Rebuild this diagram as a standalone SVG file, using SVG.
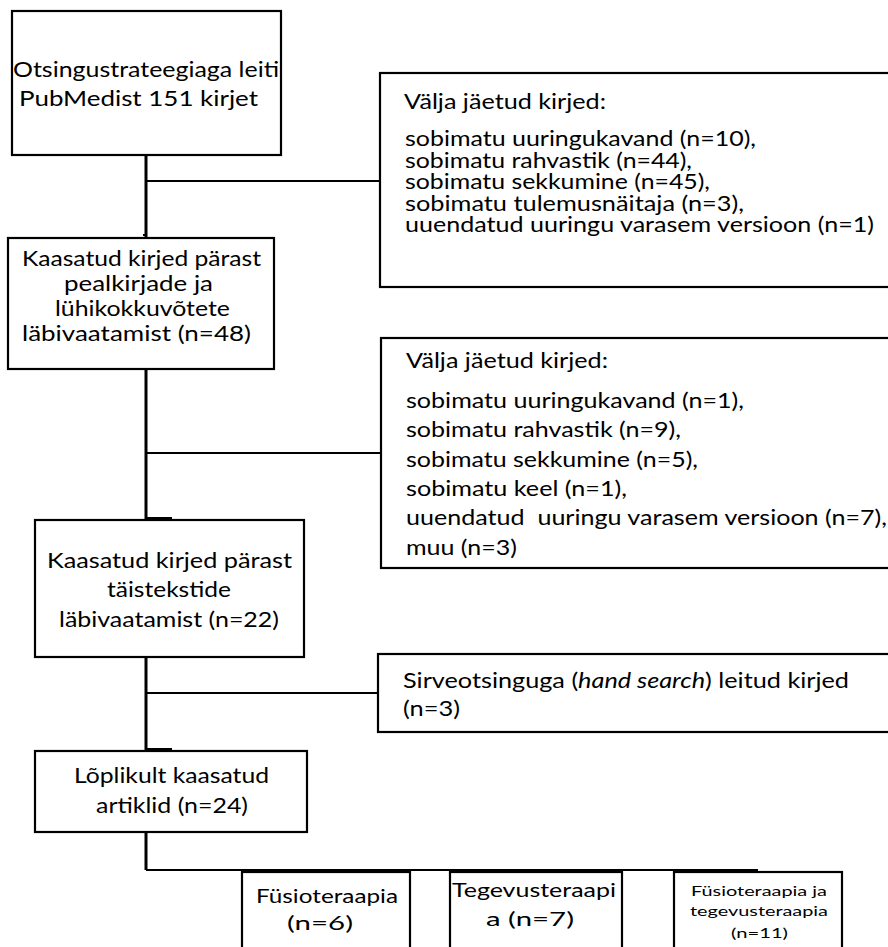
<svg xmlns="http://www.w3.org/2000/svg" width="888" height="947" viewBox="0 0 888 947">
<style>
.box{fill:#fff;stroke:#000;stroke-width:2.2}
.c{fill:none;stroke:#000;stroke-width:2.2}
.v{fill:none;stroke:#000;stroke-width:3}
text{font-family:Lato,"Liberation Sans",sans-serif;fill:#000}
.f22{font-size:22px}
.f20{font-size:20.5px}
.f21{font-size:21px}
.f18{font-size:18.5px}
.f14{font-size:14px}
</style>
<rect x="0" y="0" width="888" height="947" fill="#fff"/>
<g id="connectors">
<path class="v" d="M146,155 V238 M146,369 V520 M146,657 V751 M146,832 V870"/>
<path class="c" d="M146,181 H380 M146,453 H381 M146,693 H378 M146,870 H758"/>
<path class="c" d="M143,235 H146 M146,518 H172 M146,749 H172"/>
</g>
<g id="n1">
<rect class="box" x="12" y="11" width="269" height="144" stroke-width="2.7"/>
<text class="f22" x="13" y="77" textLength="266" lengthAdjust="spacingAndGlyphs">Otsingustrateegiaga leiti</text>
<text class="f22" x="19" y="106" textLength="239" lengthAdjust="spacingAndGlyphs">PubMedist 151 kirjet</text>
</g>
<g id="n2">
<rect class="box" x="8" y="238" width="266" height="131"/>
<text class="f20" x="22" y="266" textLength="239" lengthAdjust="spacingAndGlyphs">Kaasatud kirjed pärast</text>
<text class="f20" x="64" y="291" textLength="149" lengthAdjust="spacingAndGlyphs">pealkirjade ja</text>
<text class="f20" x="55" y="316" textLength="175" lengthAdjust="spacingAndGlyphs">lühikokkuvõtete</text>
<text class="f20" x="22" y="341" textLength="229" lengthAdjust="spacingAndGlyphs">läbivaatamist (n=48)</text>
</g>
<g id="n3">
<rect class="box" x="35" y="520" width="269" height="137"/>
<text class="f21" x="47" y="568" textLength="245" lengthAdjust="spacingAndGlyphs">Kaasatud kirjed pärast</text>
<text class="f21" x="107" y="597" textLength="124" lengthAdjust="spacingAndGlyphs">täistekstide</text>
<text class="f21" x="59" y="627" textLength="220" lengthAdjust="spacingAndGlyphs">läbivaatamist (n=22)</text>
</g>
<g id="n4">
<rect class="box" x="35" y="751" width="272" height="81"/>
<text class="f21" x="74" y="783" textLength="195" lengthAdjust="spacingAndGlyphs">Lõplikult kaasatud</text>
<text class="f21" x="96" y="813" textLength="152" lengthAdjust="spacingAndGlyphs">artiklid (n=24)</text>
</g>
<g id="ex1">
<rect class="box" x="380" y="73" width="520" height="214"/>
<text class="f22" x="404" y="109" textLength="202" lengthAdjust="spacingAndGlyphs">Välja jäetud kirjed:</text>
<text class="f20" x="405" y="146" textLength="351" lengthAdjust="spacingAndGlyphs">sobimatu uuringukavand (n=10),</text>
<text class="f20" x="405" y="167.5" textLength="287" lengthAdjust="spacingAndGlyphs">sobimatu rahvastik (n=44),</text>
<text class="f20" x="405" y="189" textLength="305" lengthAdjust="spacingAndGlyphs">sobimatu sekkumine (n=45),</text>
<text class="f20" x="405" y="210.5" textLength="339" lengthAdjust="spacingAndGlyphs">sobimatu tulemusnäitaja (n=3),</text>
<text class="f20" x="405" y="232" textLength="469" lengthAdjust="spacingAndGlyphs">uuendatud uuringu varasem versioon (n=1)</text>
</g>
<g id="ex2">
<rect class="box" x="381" y="338" width="520" height="230"/>
<text class="f22" x="406" y="368" textLength="202" lengthAdjust="spacingAndGlyphs">Välja jäetud kirjed:</text>
<text class="f22" x="406" y="408" textLength="338" lengthAdjust="spacingAndGlyphs">sobimatu uuringukavand (n=1),</text>
<text class="f22" x="406" y="437.3" textLength="275" lengthAdjust="spacingAndGlyphs">sobimatu rahvastik (n=9),</text>
<text class="f22" x="406" y="466.6" textLength="292" lengthAdjust="spacingAndGlyphs">sobimatu sekkumine (n=5),</text>
<text class="f22" x="406" y="495.9" textLength="221" lengthAdjust="spacingAndGlyphs">sobimatu keel (n=1),</text>
<text class="f22" x="406" y="525.2" textLength="481" lengthAdjust="spacingAndGlyphs" style="white-space:pre">uuendatud  uuringu varasem versioon (n=7),</text>
<text class="f22" x="406" y="554.5" textLength="111" lengthAdjust="spacingAndGlyphs">muu (n=3)</text>
</g>
<g id="hand">
<rect class="box" x="378" y="654" width="520" height="78"/>
<text class="f22" x="403" y="688" textLength="446" lengthAdjust="spacingAndGlyphs">Sirveotsinguga (<tspan font-style="italic">hand search</tspan>) leitud kirjed</text>
<text class="f22" x="403" y="716" textLength="57" lengthAdjust="spacingAndGlyphs">(n=3)</text>
</g>
<g id="fys">
<rect class="box" x="242" y="872" width="168" height="90"/>
<text class="f18" x="256" y="903" textLength="142" lengthAdjust="spacingAndGlyphs">Füsioteraapia</text>
<text class="f18" x="287" y="930" textLength="66" lengthAdjust="spacingAndGlyphs">(n=6)</text>
</g>
<g id="teg">
<rect class="box" x="450" y="872" width="172" height="90"/>
<text class="f18" x="452" y="897" textLength="164" lengthAdjust="spacingAndGlyphs">Tegevusteraapi</text>
<text class="f18" x="486" y="926" textLength="88" lengthAdjust="spacingAndGlyphs">a (n=7)</text>
</g>
<g id="both">
<rect class="box" x="674" y="872" width="168" height="90"/>
<text class="f14" x="691" y="896" textLength="136" lengthAdjust="spacingAndGlyphs">Füsioteraapia ja</text>
<text class="f14" x="690" y="916" textLength="138" lengthAdjust="spacingAndGlyphs">tegevusteraapia</text>
<text class="f14" x="731" y="938" textLength="57" lengthAdjust="spacingAndGlyphs">(n=11)</text>
</g>
</svg>
